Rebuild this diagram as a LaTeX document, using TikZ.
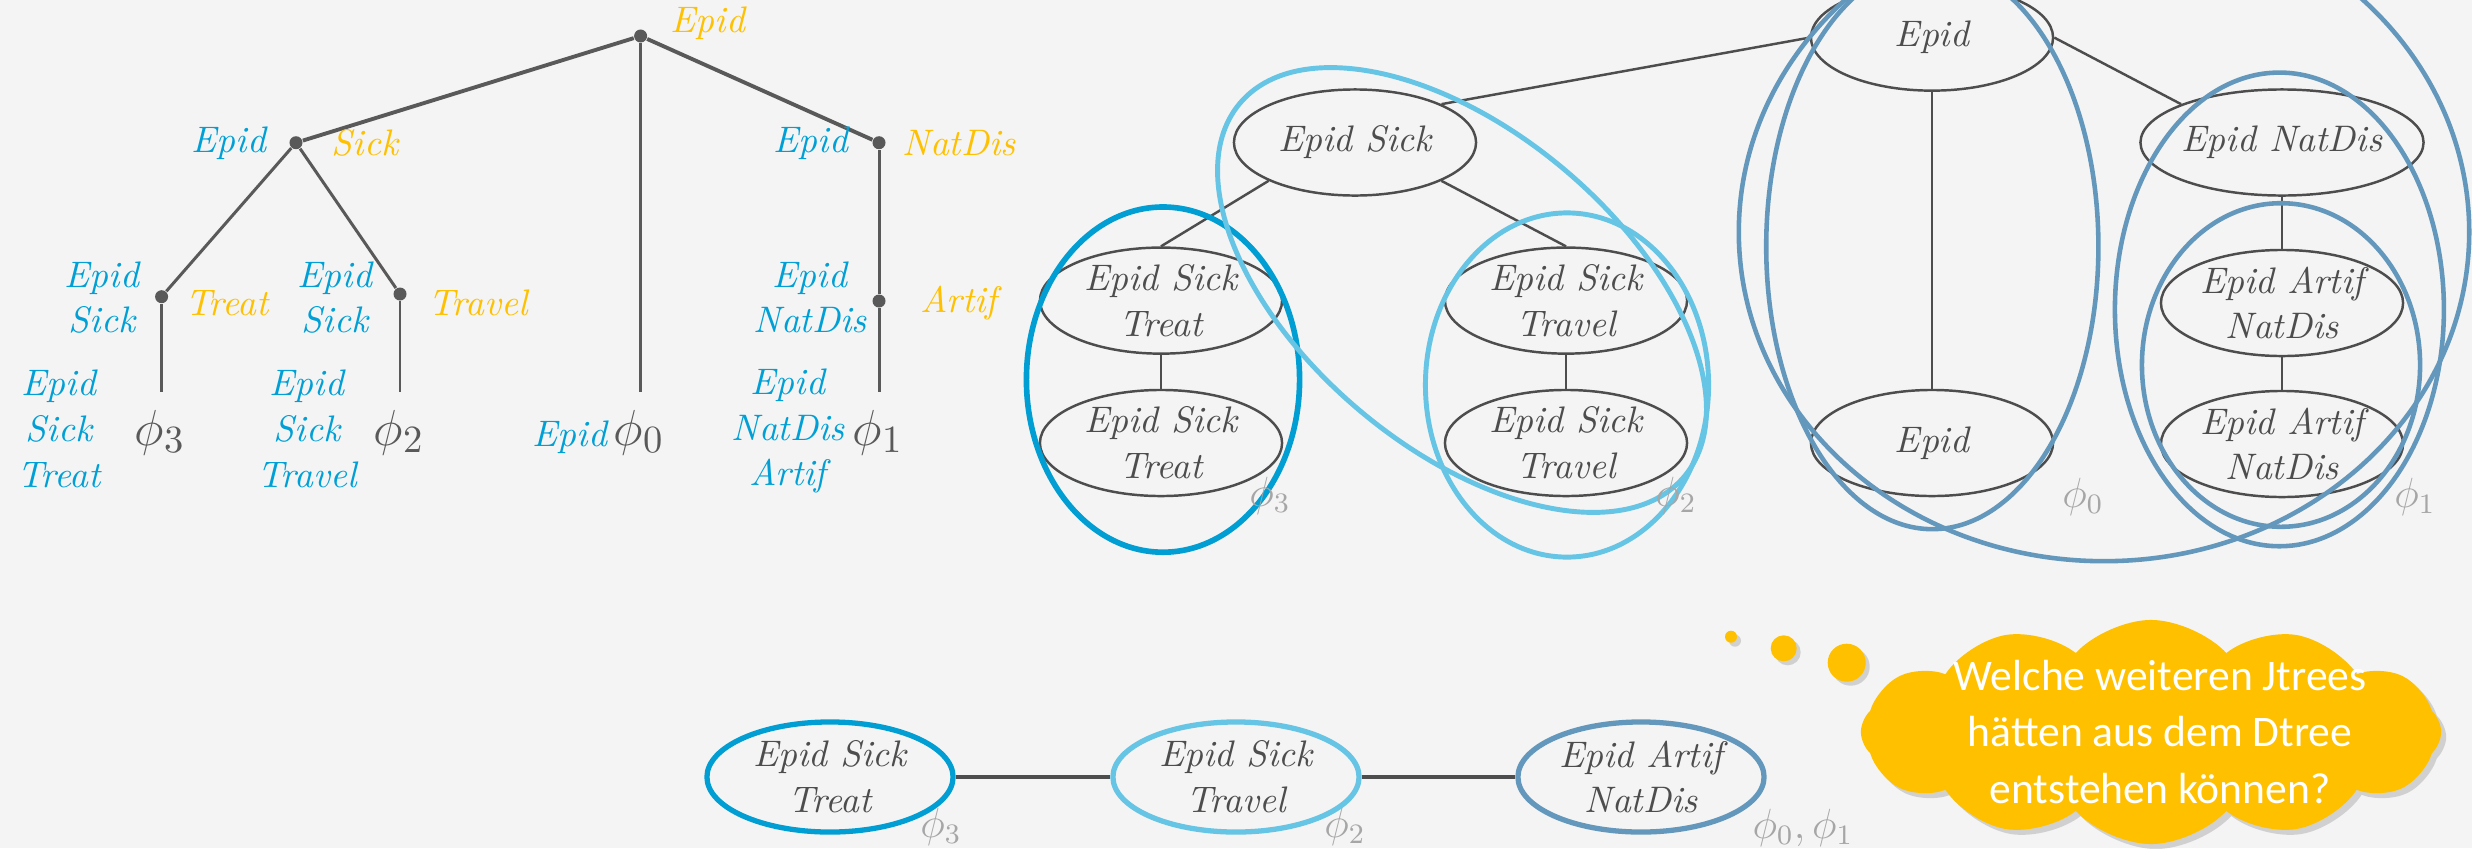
\documentclass[tikz,border=0pt]{standalone}
\usepackage{fontspec}
\newfontfamily\cloudfont{Carlito}
\usetikzlibrary{shapes.geometric,shapes.symbols,shadows}

\definecolor{bg}{HTML}{F4F4F4}
\definecolor{ink}{HTML}{595959}
\definecolor{nodeink}{HTML}{4D4D4D}
\definecolor{gold}{HTML}{FFC000}
\definecolor{treeblue}{HTML}{00A0D6}
\definecolor{cthree}{HTML}{009ED2}
\definecolor{ctwo}{HTML}{66C4E4}
\definecolor{czero}{HTML}{6398BC}
\definecolor{philabel}{HTML}{A6A6A6}

\tikzset{
  treeline/.style={draw=ink, line width=0.85pt},
  topline/.style={draw=ink, line width=1.1pt},
  dot/.style={circle, fill=ink, inner sep=0pt, minimum size=0.13cm},
  lbl/.style={font=\fontsize{10.5}{13}\selectfont\itshape, align=center, inner sep=0pt},
  bluelbl/.style={lbl, text=treeblue},
  goldlbl/.style={lbl, text=gold},
  phibig/.style={text=ink, font=\fontsize{15.5}{18}\selectfont, inner sep=0pt, anchor=base},
  philight/.style={text=philabel, font=\fontsize{11.5}{14}\selectfont, inner sep=0pt},
  clique/.style={ellipse, draw=nodeink, line width=0.7pt, minimum width=2.42cm,
    minimum height=1.06cm, inner sep=0pt, text=nodeink, align=center,
    font=\fontsize{10.5}{13}\selectfont\itshape},
  link/.style={draw=nodeink, line width=0.7pt},
  cthreering/.style={draw=cthree, line width=1.6pt},
  ctworing/.style={draw=ctwo, line width=1.4pt},
  czeroring/.style={draw=czero, line width=1.3pt},
  jnode/.style={clique, draw=#1, line width=1.5pt, minimum width=2.46cm, minimum height=1.1cm},
  bubble/.style={circle, fill=gold, inner sep=0pt,
    drop shadow={shadow xshift=0.04cm, shadow yshift=-0.04cm, opacity=0.3}},
}

\begin{document}
\begin{tikzpicture}[x=0.01cm, y=-0.01cm]
\useasboundingbox (0,0) rectangle (2472,848);
\fill[bg] (0,0) rectangle (2472,848);
\clip (0,0) rectangle (2472,848);

% ---------------- Dtree ----------------
\node[dot] (R) at (640.6,36) {};
\node[dot] (S) at (296,142.7) {};
\node[dot] (N) at (879,142.7) {};
\node[dot] (T) at (161.6,296.7) {};
\node[dot] (V) at (400,294) {};
\node[dot] (A) at (879,301) {};
\coordinate (l3) at (161.6,391.7);
\coordinate (l2) at (400,391.7);
\coordinate (l0) at (640.6,391.7);
\coordinate (l1) at (879,391.7);

\draw[topline] (R) -- (S);
\draw[topline] (R) -- (N);
\draw[treeline] (R) -- (l0);
\draw[treeline] (S) -- (T);
\draw[treeline] (S) -- (V);
\draw[treeline] (T) -- (l3);
\draw[treeline] (V) -- (l2);
\draw[treeline] (N) -- (A);
\draw[treeline] (A) -- (l1);

\node[goldlbl] (tR) at (708,23) {Epid};
\node[bluelbl] (tSb) at (229,143) {Epid};
\node[goldlbl] (tSg) at (365,143) {Sick};
\node[bluelbl] (tNb) at (811,143) {Epid};
\node[goldlbl] (tNg) at (959,143) {NatDis};
\node[bluelbl] (tTb) at (102,297.5) {Epid\\Sick};
\node[goldlbl] (tTg) at (227,303) {Treat};
\node[bluelbl] (tVb) at (335,297.5) {Epid\\Sick};
\node[goldlbl] (tVg) at (478,303) {Travel};
\node[bluelbl] (tAb) at (810,297.5) {Epid\\NatDis};
\node[goldlbl] (tAg) at (959,303) {Artif};

\node[bluelbl] (f3) at (59,429) {Epid\\Sick\\Treat};
\node[bluelbl] (f2) at (307,429) {Epid\\Sick\\Travel};
\node[bluelbl] (f0) at (570,437) {Epid};
\node[bluelbl] (f1) at (788,431) {Epid\\NatDis\\Artif};

\node[phibig] (p3) at (160,445) {$\phi_3$};
\node[phibig] (p2) at (399,445) {$\phi_2$};
\node[phibig] (p0) at (639,445) {$\phi_0$};
\node[phibig] (p1) at (878,445) {$\phi_1$};

% ---------------- cliques ----------------
\node[clique] (cE)   at (1932,37.6) {Epid};
\node[clique] (cES)  at (1355,142.5) {Epid Sick};
\node[clique] (cEN)  at (2282,142.5) {Epid NatDis};
\node[clique] (cT1)  at (1161,300.6) {Epid Sick\\Treat};
\node[clique] (cT2)  at (1161,443) {Epid Sick\\Treat};
\node[clique] (cV1)  at (1566,300.6) {Epid Sick\\Travel};
\node[clique] (cV2)  at (1566,443) {Epid Sick\\Travel};
\node[clique] (cA1)  at (2282,303) {Epid Artif\\NatDis};
\node[clique] (cA2)  at (2282,444) {Epid Artif\\NatDis};
\node[clique] (cE2)  at (1932,443) {Epid};

\draw[link] (cES.north east) -- (cE.west);
\draw[link] (cE.east) -- (cEN.north west);
\draw[link] (cES.south west) -- (cT1.north);
\draw[link] (cES.south east) -- (cV1.north);
\draw[link] (cT1) -- (cT2);
\draw[link] (cV1) -- (cV2);
\draw[link] (cE) -- (cE2);
\draw[link] (cEN) -- (cA1);
\draw[link] (cA1) -- (cA2);

% potential groupings
\draw[cthreering] (1163,379.6) ellipse [x radius=1.365cm, y radius=1.725cm];
\draw[ctworing] (1567,385) ellipse [x radius=1.415cm, y radius=1.72cm];
\draw[ctworing, rotate around={-40:(1462,290)}] (1462,290) ellipse [x radius=2.9cm, y radius=1.58cm];
\draw[czeroring] (1932.3,246.6) ellipse [x radius=1.66cm, y radius=2.824cm];
\draw[czeroring] (2104,232) ellipse [x radius=3.65cm, y radius=3.29cm];
\draw[czeroring] (2279.4,309.4) ellipse [x radius=1.644cm, y radius=2.367cm];
\draw[czeroring] (2281,365) ellipse [x radius=1.39cm, y radius=1.617cm];

\node[philight] (q3) at (1270,495.7) {$\phi_3$};
\node[philight] (q2) at (1676,495.7) {$\phi_2$};
\node[philight] (q0) at (2083,496.7) {$\phi_0$};
\node[philight] (q1) at (2415,496.7) {$\phi_1$};

% ---------------- Jtree ----------------
\node[jnode=cthree] (j3) at (830,777) {Epid Sick\\Treat};
\node[jnode=ctwo]   (j2) at (1236,777) {Epid Sick\\Travel};
\node[jnode=czero]  (j1) at (1641,777) {Epid Artif\\NatDis};
\draw[link, line width=1.1pt] (j3) -- (j2);
\draw[link, line width=1.1pt] (j2) -- (j1);

\node[philight] (r3) at (941,827) {$\phi_3$};
\node[philight] (r2) at (1345,827) {$\phi_2$};
\node[philight] (r01) at (1803,828) {$\phi_0,\phi_1$};

% ---------------- thought cloud ----------------
\node[bubble, minimum size=0.12cm] (b1) at (1731,636.7) {};
\node[bubble, minimum size=0.26cm] (b2) at (1783.7,648.3) {};
\node[bubble, minimum size=0.38cm] (b3) at (1846.7,662.7) {};
\node[cloud, cloud puffs=12, cloud puff arc=95, aspect=2.6, fill=gold,
      minimum width=5.8cm, minimum height=2.24cm, inner sep=0pt,
      drop shadow={shadow xshift=0.05cm, shadow yshift=-0.05cm, opacity=0.3}]
      (cl) at (2151,732) {};
\node[text=white, font=\cloudfont\fontsize{12.4}{16.1}\selectfont, align=center, inner sep=0pt]
      (cltext) at (2160,732) {Welche weiteren Jtrees\\hätten aus dem Dtree\\entstehen können?};

\end{tikzpicture}
\end{document}
